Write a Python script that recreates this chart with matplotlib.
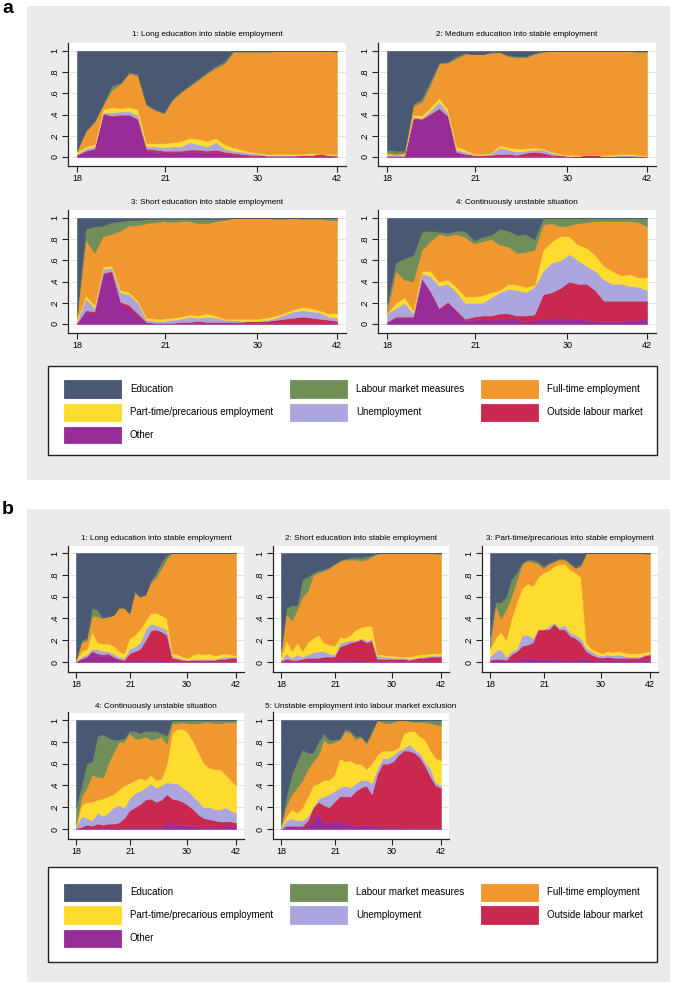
import numpy as np
import matplotlib
matplotlib.use("Agg")
import matplotlib.pyplot as plt
from matplotlib.patches import Rectangle

plt.rcParams['font.family'] = ['Liberation Sans', 'DejaVu Sans']

# ---------------- data ----------------
STATES = ["Education", "Labour market measures", "Full-time employment",
          "Part-time/precarious employment", "Unemployment", "Outside labour market", "Other"]
COLORS = {"Education": "#4a5874", "Labour market measures": "#6f8e58",
          "Full-time employment": "#f0982f", "Part-time/precarious employment": "#fedb2f",
          "Unemployment": "#aba6de", "Outside labour market": "#c9294f", "Other": "#982c98"}
STACK_ORDER = ["Other", "Outside labour market", "Unemployment",
               "Part-time/precarious employment", "Full-time employment",
               "Labour market measures", "Education"]

TICK_LABELS = ["18", "21", "30", "42"]
TICK_POS = [0, 10.2, 20.8, 30]
T = np.arange(31)

TITLES_A = ["1: Long education into stable employment", "2: Medium education into stable employment",
            "3: Short education into stable employment", "4: Continuously unstable situation"]
TITLES_B = ["1: Long education into stable employment", "2: Short education into stable employment",
            "3: Part-time/precarious into stable employment", "4: Continuously unstable situation",
            "5: Unstable employment into labour market exclusion"]

# Upper edges of the stacked layers (cumulative shares).
# Order of edges: Other, Outside, Unemployment, Part-time, Full-time, Labour market measures.
A1_OTHER = [0.02,0.06,0.08,0.41,0.38,0.39,0.40,0.35,0.06,0.05,0.05,0.04,0.05,0.05,0.05,0.04,0.05,0.03,0.02,0.02,0.01,0.01,0.01,0.01,0.01,0.01,0.01,0.01,0.01,0.01,0.01]
A1_OUTSIDE = [0.02,0.06,0.08,0.41,0.39,0.40,0.40,0.36,0.08,0.07,0.06,0.06,0.06,0.07,0.07,0.06,0.07,0.05,0.04,0.03,0.02,0.02,0.01,0.01,0.01,0.01,0.02,0.02,0.03,0.02,0.01]
A1_UNEMP = [0.03,0.08,0.10,0.42,0.42,0.43,0.43,0.40,0.10,0.10,0.09,0.10,0.10,0.14,0.12,0.10,0.14,0.08,0.06,0.05,0.04,0.03,0.02,0.02,0.02,0.02,0.02,0.02,0.03,0.02,0.02]
A1_PART = [0.05,0.10,0.12,0.45,0.47,0.46,0.47,0.45,0.13,0.13,0.13,0.14,0.15,0.18,0.17,0.15,0.18,0.12,0.09,0.07,0.05,0.04,0.03,0.03,0.03,0.03,0.03,0.04,0.03,0.03,0.03]
A1_FULL = [0.06,0.24,0.33,0.49,0.63,0.69,0.79,0.77,0.49,0.44,0.41,0.54,0.61,0.67,0.73,0.79,0.84,0.88,0.99,0.99,0.99,0.99,0.99,1.0,1.0,1.0,1.0,1.0,1.0,1.0,0.99]
A1_LMM = [0.07,0.25,0.34,0.50,0.67,0.70,0.80,0.78,0.50,0.45,0.42,0.55,0.62,0.68,0.74,0.80,0.86,0.90,1.0,1.0,1.0,1.0,1.0,1.0,1.0,1.0,1.0,1.0,1.0,1.0,1.0]

A2_OTHER = [0.01,0.01,0.01,0.36,0.35,0.40,0.45,0.38,0.04,0.02,0.01,0.01,0.01,0.01,0.01,0.01,0.01,0.01,0.01,0.01,0.01,0.01,0.0,0.0,0.0,0.0,0.0,0.0,0.0,0.0,0.0]
A2_OUTSIDE = [0.01,0.01,0.01,0.37,0.36,0.41,0.46,0.39,0.05,0.03,0.02,0.02,0.02,0.03,0.03,0.02,0.04,0.05,0.04,0.02,0.02,0.01,0.01,0.02,0.02,0.01,0.01,0.01,0.01,0.01,0.0]
A2_UNEMP = [0.02,0.02,0.02,0.38,0.37,0.44,0.52,0.42,0.07,0.05,0.02,0.02,0.03,0.09,0.07,0.05,0.06,0.07,0.07,0.04,0.02,0.01,0.01,0.02,0.02,0.01,0.01,0.02,0.02,0.01,0.01]
A2_PART = [0.03,0.02,0.03,0.40,0.39,0.47,0.56,0.45,0.10,0.07,0.03,0.03,0.04,0.11,0.09,0.08,0.08,0.09,0.08,0.05,0.03,0.02,0.02,0.02,0.02,0.02,0.02,0.03,0.03,0.02,0.01]
A2_FULL = [0.04,0.03,0.04,0.48,0.52,0.68,0.88,0.89,0.93,0.97,0.97,0.97,0.98,0.99,0.95,0.94,0.94,0.97,0.99,1.0,1.0,1.0,1.0,1.0,1.0,1.0,1.0,1.0,1.0,0.99,0.99]
A2_LMM = [0.07,0.06,0.06,0.50,0.55,0.72,0.89,0.90,0.95,0.98,0.97,0.97,0.99,0.99,0.96,0.95,0.95,0.98,1.0,1.0,1.0,1.0,1.0,1.0,1.0,1.0,1.0,1.0,1.0,1.0,1.0]

A3_OTHER = [0.01,0.12,0.10,0.48,0.49,0.20,0.15,0.08,0.01,0.01,0.01,0.01,0.01,0.01,0.01,0.01,0.01,0.01,0.01,0.01,0.01,0.01,0.01,0.01,0.01,0.01,0.01,0.01,0.01,0.01,0.01]
A3_OUTSIDE = [0.01,0.13,0.12,0.48,0.50,0.21,0.18,0.10,0.02,0.01,0.01,0.01,0.02,0.02,0.03,0.02,0.02,0.02,0.02,0.02,0.03,0.03,0.03,0.04,0.05,0.06,0.07,0.06,0.05,0.04,0.03]
A3_UNEMP = [0.03,0.24,0.15,0.52,0.53,0.30,0.28,0.20,0.04,0.03,0.03,0.04,0.05,0.07,0.06,0.07,0.06,0.04,0.04,0.03,0.03,0.03,0.04,0.06,0.09,0.12,0.13,0.12,0.11,0.07,0.06]
A3_PART = [0.05,0.27,0.18,0.54,0.55,0.32,0.30,0.22,0.06,0.05,0.05,0.06,0.07,0.09,0.08,0.10,0.08,0.05,0.05,0.05,0.05,0.05,0.06,0.08,0.11,0.14,0.16,0.15,0.13,0.10,0.10]
A3_FULL = [0.08,0.80,0.67,0.83,0.85,0.88,0.93,0.93,0.95,0.96,0.97,0.96,0.97,0.97,0.95,0.95,0.97,0.98,1.0,1.0,1.0,1.0,1.0,0.99,0.99,1.0,0.99,0.99,0.99,0.98,0.98]
A3_LMM = [0.12,0.90,0.92,0.93,0.96,0.97,0.98,0.98,0.99,0.99,0.99,0.99,0.99,0.99,0.99,0.99,0.99,0.99,1.0,1.0,1.0,1.0,1.0,1.0,1.0,1.0,1.0,1.0,1.0,1.0,1.0]

A4_OTHER = [0.02,0.06,0.06,0.06,0.42,0.30,0.14,0.20,0.12,0.04,0.04,0.05,0.04,0.05,0.06,0.05,0.02,0.04,0.05,0.05,0.06,0.05,0.05,0.04,0.03,0.03,0.03,0.03,0.04,0.04,0.05]
A4_OUTSIDE = [0.02,0.07,0.07,0.07,0.43,0.31,0.15,0.21,0.13,0.05,0.07,0.08,0.08,0.10,0.10,0.08,0.08,0.09,0.28,0.30,0.34,0.40,0.38,0.38,0.32,0.22,0.22,0.22,0.22,0.22,0.22]
A4_UNEMP = [0.10,0.15,0.20,0.10,0.48,0.45,0.36,0.38,0.30,0.20,0.20,0.20,0.25,0.30,0.33,0.32,0.30,0.35,0.50,0.58,0.60,0.66,0.60,0.55,0.50,0.42,0.38,0.38,0.36,0.35,0.32]
A4_PART = [0.10,0.20,0.25,0.13,0.50,0.50,0.40,0.42,0.35,0.26,0.26,0.27,0.30,0.32,0.38,0.37,0.35,0.37,0.70,0.78,0.83,0.83,0.75,0.72,0.65,0.55,0.50,0.46,0.47,0.44,0.44]
A4_FULL = [0.12,0.50,0.42,0.40,0.70,0.78,0.85,0.83,0.85,0.82,0.76,0.78,0.80,0.75,0.73,0.67,0.68,0.70,0.94,0.95,0.92,0.93,0.95,0.96,0.97,0.97,0.97,0.97,0.97,0.96,0.92]
A4_LMM = [0.20,0.58,0.62,0.65,0.87,0.88,0.87,0.86,0.88,0.88,0.79,0.82,0.84,0.90,0.88,0.84,0.85,0.80,1.0,1.0,1.0,1.0,1.0,1.0,1.0,1.0,1.0,1.0,1.0,1.0,1.0]

B1_OTHER = [0.01,0.03,0.05,0.10,0.07,0.05,0.07,0.04,0.02,0.01,0.01,0.02,0.02,0.02,0.02,0.02,0.02,0.01,0.01,0.01,0.01,0.01,0.01,0.01,0.01,0.01,0.01,0.01,0.01,0.01,0.01]
B1_OUTSIDE = [0.01,0.03,0.05,0.10,0.08,0.07,0.08,0.05,0.03,0.02,0.08,0.10,0.12,0.20,0.29,0.30,0.28,0.25,0.04,0.03,0.02,0.02,0.02,0.02,0.02,0.02,0.02,0.03,0.03,0.04,0.04]
B1_UNEMP = [0.01,0.05,0.07,0.12,0.12,0.10,0.10,0.08,0.05,0.04,0.12,0.14,0.18,0.30,0.35,0.34,0.32,0.30,0.06,0.04,0.03,0.02,0.03,0.03,0.03,0.03,0.03,0.04,0.05,0.05,0.05]
B1_PART = [0.02,0.10,0.12,0.28,0.18,0.17,0.17,0.15,0.10,0.08,0.22,0.25,0.30,0.38,0.45,0.45,0.43,0.40,0.08,0.07,0.05,0.04,0.07,0.08,0.07,0.08,0.06,0.07,0.08,0.07,0.06]
B1_FULL = [0.02,0.18,0.20,0.42,0.42,0.40,0.42,0.43,0.50,0.50,0.44,0.64,0.60,0.62,0.73,0.78,0.86,0.95,1.0,1.0,1.0,1.0,1.0,1.0,1.0,1.0,1.0,1.0,1.0,1.0,1.0]
B1_LMM = [0.03,0.20,0.22,0.50,0.48,0.41,0.42,0.43,0.50,0.50,0.45,0.65,0.60,0.62,0.75,0.82,0.92,0.98,1.0,1.0,1.0,1.0,1.0,1.0,1.0,1.0,1.0,1.0,1.0,1.0,1.0]

B2_OTHER = [0.01,0.01,0.01,0.01,0.01,0.01,0.02,0.02,0.02,0.02,0.02,0.02,0.02,0.02,0.02,0.02,0.01,0.01,0.01,0.01,0.01,0.01,0.01,0.01,0.01,0.01,0.01,0.01,0.01,0.01,0.01]
B2_OUTSIDE = [0.01,0.03,0.02,0.02,0.03,0.04,0.04,0.04,0.05,0.05,0.05,0.14,0.16,0.18,0.19,0.21,0.18,0.20,0.03,0.03,0.03,0.03,0.03,0.03,0.02,0.03,0.04,0.04,0.05,0.05,0.05]
B2_UNEMP = [0.02,0.08,0.04,0.07,0.05,0.07,0.09,0.10,0.10,0.08,0.07,0.17,0.19,0.20,0.20,0.22,0.20,0.21,0.06,0.05,0.05,0.04,0.04,0.04,0.03,0.04,0.05,0.05,0.06,0.06,0.06]
B2_PART = [0.05,0.20,0.10,0.18,0.10,0.18,0.22,0.25,0.18,0.16,0.15,0.23,0.22,0.25,0.30,0.32,0.33,0.33,0.07,0.07,0.06,0.06,0.05,0.05,0.05,0.06,0.07,0.07,0.08,0.08,0.08]
B2_FULL = [0.10,0.44,0.38,0.48,0.60,0.65,0.80,0.82,0.84,0.86,0.90,0.93,0.94,0.94,0.94,0.93,0.94,0.97,0.99,1.0,1.0,1.0,1.0,1.0,1.0,1.0,1.0,1.0,1.0,0.99,0.99]
B2_LMM = [0.12,0.50,0.52,0.52,0.76,0.78,0.82,0.84,0.85,0.87,0.90,0.93,0.95,0.96,0.96,0.96,0.97,0.98,1.0,1.0,1.0,1.0,1.0,1.0,1.0,1.0,1.0,1.0,1.0,1.0,1.0]

B3_OTHER = [0.01,0.02,0.02,0.01,0.02,0.02,0.03,0.04,0.04,0.02,0.03,0.03,0.03,0.02,0.02,0.01,0.02,0.04,0.03,0.02,0.02,0.02,0.02,0.02,0.02,0.02,0.02,0.02,0.02,0.02,0.02]
B3_OUTSIDE = [0.02,0.03,0.03,0.02,0.07,0.10,0.15,0.16,0.18,0.30,0.30,0.30,0.35,0.30,0.30,0.24,0.22,0.18,0.10,0.07,0.05,0.04,0.05,0.04,0.04,0.04,0.04,0.04,0.04,0.06,0.07]
B3_UNEMP = [0.05,0.10,0.12,0.05,0.10,0.12,0.25,0.25,0.22,0.30,0.30,0.33,0.36,0.32,0.34,0.27,0.25,0.22,0.13,0.10,0.07,0.06,0.07,0.06,0.07,0.06,0.05,0.05,0.05,0.07,0.08]
B3_PART = [0.12,0.22,0.28,0.20,0.40,0.55,0.68,0.72,0.70,0.78,0.82,0.84,0.88,0.90,0.90,0.85,0.82,0.78,0.18,0.12,0.10,0.08,0.10,0.09,0.10,0.09,0.08,0.08,0.08,0.09,0.10]
B3_FULL = [0.14,0.52,0.40,0.48,0.60,0.75,0.90,0.93,0.92,0.90,0.86,0.90,0.92,0.94,0.94,0.90,0.86,0.88,1.0,1.0,1.0,1.0,1.0,1.0,1.0,1.0,1.0,1.0,1.0,0.99,0.99]
B3_LMM = [0.25,0.55,0.55,0.60,0.76,0.82,0.91,0.94,0.94,0.92,0.88,0.91,0.93,0.95,0.95,0.91,0.87,0.90,1.0,1.0,1.0,1.0,1.0,1.0,1.0,1.0,1.0,1.0,1.0,1.0,1.0]

B4_OTHER = [0.01,0.01,0.02,0.01,0.02,0.01,0.02,0.01,0.02,0.01,0.02,0.02,0.02,0.02,0.02,0.02,0.02,0.06,0.05,0.04,0.04,0.03,0.03,0.02,0.02,0.02,0.02,0.02,0.03,0.03,0.03]
B4_OUTSIDE = [0.01,0.02,0.04,0.03,0.05,0.04,0.05,0.05,0.06,0.10,0.17,0.20,0.23,0.27,0.28,0.25,0.27,0.32,0.28,0.27,0.25,0.22,0.18,0.13,0.10,0.09,0.08,0.07,0.07,0.07,0.06]
B4_UNEMP = [0.02,0.12,0.10,0.08,0.15,0.12,0.15,0.20,0.22,0.20,0.28,0.33,0.35,0.38,0.42,0.38,0.40,0.43,0.42,0.42,0.38,0.35,0.30,0.25,0.20,0.20,0.18,0.18,0.20,0.17,0.15]
B4_PART = [0.03,0.22,0.25,0.25,0.27,0.28,0.30,0.32,0.36,0.40,0.42,0.45,0.47,0.45,0.50,0.45,0.46,0.60,0.88,0.92,0.92,0.88,0.80,0.70,0.60,0.56,0.55,0.55,0.50,0.45,0.40]
B4_FULL = [0.05,0.30,0.38,0.50,0.48,0.47,0.60,0.70,0.80,0.80,0.88,0.83,0.83,0.85,0.82,0.83,0.85,0.78,0.97,0.97,0.98,0.97,0.97,0.97,0.98,0.98,0.97,0.97,0.98,0.98,0.98]
B4_LMM = [0.20,0.40,0.60,0.62,0.85,0.87,0.84,0.82,0.82,0.83,0.90,0.90,0.88,0.90,0.90,0.90,0.88,0.86,1.0,1.0,1.0,1.0,1.0,1.0,1.0,1.0,1.0,1.0,1.0,1.0,1.0]

B5_OTHER = [0.0,0.03,0.03,0.02,0.02,0.04,0.08,0.14,0.06,0.05,0.06,0.08,0.06,0.04,0.03,0.03,0.04,0.03,0.03,0.02,0.02,0.02,0.02,0.01,0.01,0.01,0.01,0.01,0.01,0.01,0.01]
B5_OUTSIDE = [0.0,0.03,0.03,0.03,0.03,0.08,0.20,0.25,0.22,0.20,0.25,0.30,0.30,0.30,0.35,0.38,0.40,0.32,0.50,0.60,0.60,0.62,0.68,0.72,0.72,0.70,0.66,0.58,0.48,0.40,0.38]
B5_UNEMP = [0.02,0.08,0.10,0.08,0.08,0.12,0.20,0.28,0.30,0.32,0.35,0.38,0.40,0.38,0.42,0.45,0.45,0.42,0.55,0.65,0.65,0.68,0.72,0.74,0.78,0.73,0.70,0.62,0.55,0.43,0.40]
B5_PART = [0.03,0.12,0.18,0.15,0.20,0.30,0.40,0.42,0.45,0.45,0.50,0.65,0.62,0.63,0.60,0.60,0.55,0.60,0.68,0.72,0.72,0.72,0.75,0.88,0.90,0.90,0.85,0.82,0.72,0.65,0.63]
B5_FULL = [0.03,0.22,0.32,0.38,0.45,0.55,0.62,0.68,0.82,0.78,0.80,0.82,0.90,0.88,0.82,0.85,0.78,0.88,1.0,0.98,0.97,0.98,1.0,1.0,0.99,0.98,0.98,0.98,0.97,0.96,0.95]
B5_LMM = [0.05,0.30,0.50,0.62,0.73,0.70,0.70,0.80,0.88,0.82,0.82,0.83,0.92,0.90,0.85,0.85,0.80,0.90,1.0,1.0,1.0,1.0,1.0,1.0,1.0,1.0,1.0,1.0,1.0,1.0,1.0]

PANELS_A = [(A1_OTHER, A1_OUTSIDE, A1_UNEMP, A1_PART, A1_FULL, A1_LMM),
            (A2_OTHER, A2_OUTSIDE, A2_UNEMP, A2_PART, A2_FULL, A2_LMM),
            (A3_OTHER, A3_OUTSIDE, A3_UNEMP, A3_PART, A3_FULL, A3_LMM),
            (A4_OTHER, A4_OUTSIDE, A4_UNEMP, A4_PART, A4_FULL, A4_LMM)]
PANELS_B = [(B1_OTHER, B1_OUTSIDE, B1_UNEMP, B1_PART, B1_FULL, B1_LMM),
            (B2_OTHER, B2_OUTSIDE, B2_UNEMP, B2_PART, B2_FULL, B2_LMM),
            (B3_OTHER, B3_OUTSIDE, B3_UNEMP, B3_PART, B3_FULL, B3_LMM),
            (B4_OTHER, B4_OUTSIDE, B4_UNEMP, B4_PART, B4_FULL, B4_LMM),
            (B5_OTHER, B5_OUTSIDE, B5_UNEMP, B5_PART, B5_FULL, B5_LMM)]

# ---------------- layout ----------------
W, H = 680, 985
fig = plt.figure(figsize=(W / 100, H / 100), dpi=100)
fig.patch.set_facecolor("white")


def fx(x):
    return x / W


def fy(y):
    return 1 - y / H


def frect(x0, y0, x1, y1, **kw):
    r = Rectangle((fx(x0), fy(y1)), fx(x1) - fx(x0), fy(y0) - fy(y1),
                  transform=fig.transFigure, **kw)
    fig.add_artist(r)
    return r


GRAY = "#ebebeb"
frect(27, 6, 670, 480, facecolor=GRAY, edgecolor="none", zorder=0)
frect(27, 509, 670, 982, facecolor=GRAY, edgecolor="none", zorder=0)
fig.text(fx(2), fy(13), "a", fontsize=14, fontweight="bold", ha="left", va="baseline")
fig.text(fx(2), fy(514), "b", fontsize=14, fontweight="bold", ha="left", va="baseline")


def draw_panel(left, top, width, height, xlim, ylim, tops, title, title_y):
    ax = fig.add_axes([fx(left), fy(top + height), width / W, height / H])
    ax.set_facecolor("white")
    edges = np.vstack([np.zeros(len(T))] + [np.asarray(t, float) for t in tops] + [np.ones(len(T))])
    edges = np.maximum.accumulate(edges, axis=0)
    shares = np.diff(edges, axis=0)
    ax.stackplot(T, shares, colors=[COLORS[s] for s in STACK_ORDER],
                 edgecolor="face", linewidth=0.4, zorder=2)
    ax.set_xlim(*xlim)
    ax.set_ylim(*ylim)
    ax.set_yticks([0, 0.2, 0.4, 0.6, 0.8, 1.0])
    ax.set_yticklabels(["0", ".2", ".4", ".6", ".8", "1"], rotation=90, va="center")
    ax.set_xticks(TICK_POS)
    ax.set_xticklabels(TICK_LABELS)
    ax.yaxis.grid(True, color="#e2e2e8", linewidth=0.7, zorder=0)
    ax.set_axisbelow(True)
    for s in ("top", "right"):
        ax.spines[s].set_visible(False)
    for s in ("left", "bottom"):
        ax.spines[s].set_color("#222222")
        ax.spines[s].set_linewidth(0.9)
    ax.tick_params(axis="both", length=4, width=0.8, color="#222222", labelsize=6.5, pad=2)
    fig.text(fx(left + width / 2), fy(title_y), title, fontsize=5.9, ha="center", va="center")
    return ax


# panel a
XL_A = (-1.04, 31.04)
YL_A = (-0.085, 1.075)
pos_a = [(68, 43, 35), (378, 43, 35), (68, 210, 203), (378, 210, 203)]
for (l, t, ty), tops, title in zip(pos_a, PANELS_A, TITLES_A):
    draw_panel(l, t, 278, 123, XL_A, YL_A, tops, title, ty)

# panel b
XL_B = (-1.5, 31.5)
YL_B = (-0.087, 1.069)
pos_b = [(68, 545.5, 539), (273, 545.5, 539), (482, 545.5, 539), (68, 712.5, 706), (273, 712.5, 706)]
for (l, t, ty), tops, title in zip(pos_b, PANELS_B, TITLES_B):
    draw_panel(l, t, 176, 126, XL_B, YL_B, tops, title, ty)

# legends
LEG_ROWS = [["Education", "Labour market measures", "Full-time employment"],
            ["Part-time/precarious employment", "Unemployment", "Outside labour market"],
            ["Other"]]
SW_X = [64, 290, 481]
TX_X = [130, 356, 547]


def draw_legend(y0, y1, row_centers):
    frect(48, y0, 657, y1, facecolor="white", edgecolor="#222222", linewidth=1.0, zorder=1)
    for r, row in enumerate(LEG_ROWS):
        yc = row_centers[r]
        for c, name in enumerate(row):
            frect(SW_X[c], yc - 8.5, SW_X[c] + 57, yc + 8.5, facecolor=COLORS[name],
                  edgecolor=COLORS[name], linewidth=0.6, zorder=2)
            fig.text(fx(TX_X[c]), fy(yc), name, fontsize=7, ha="left", va="center", zorder=3)


draw_legend(366, 455, [389, 412, 435])
draw_legend(867, 962, [892, 915, 938])

fig.savefig("out.png", dpi=100, facecolor="white")
